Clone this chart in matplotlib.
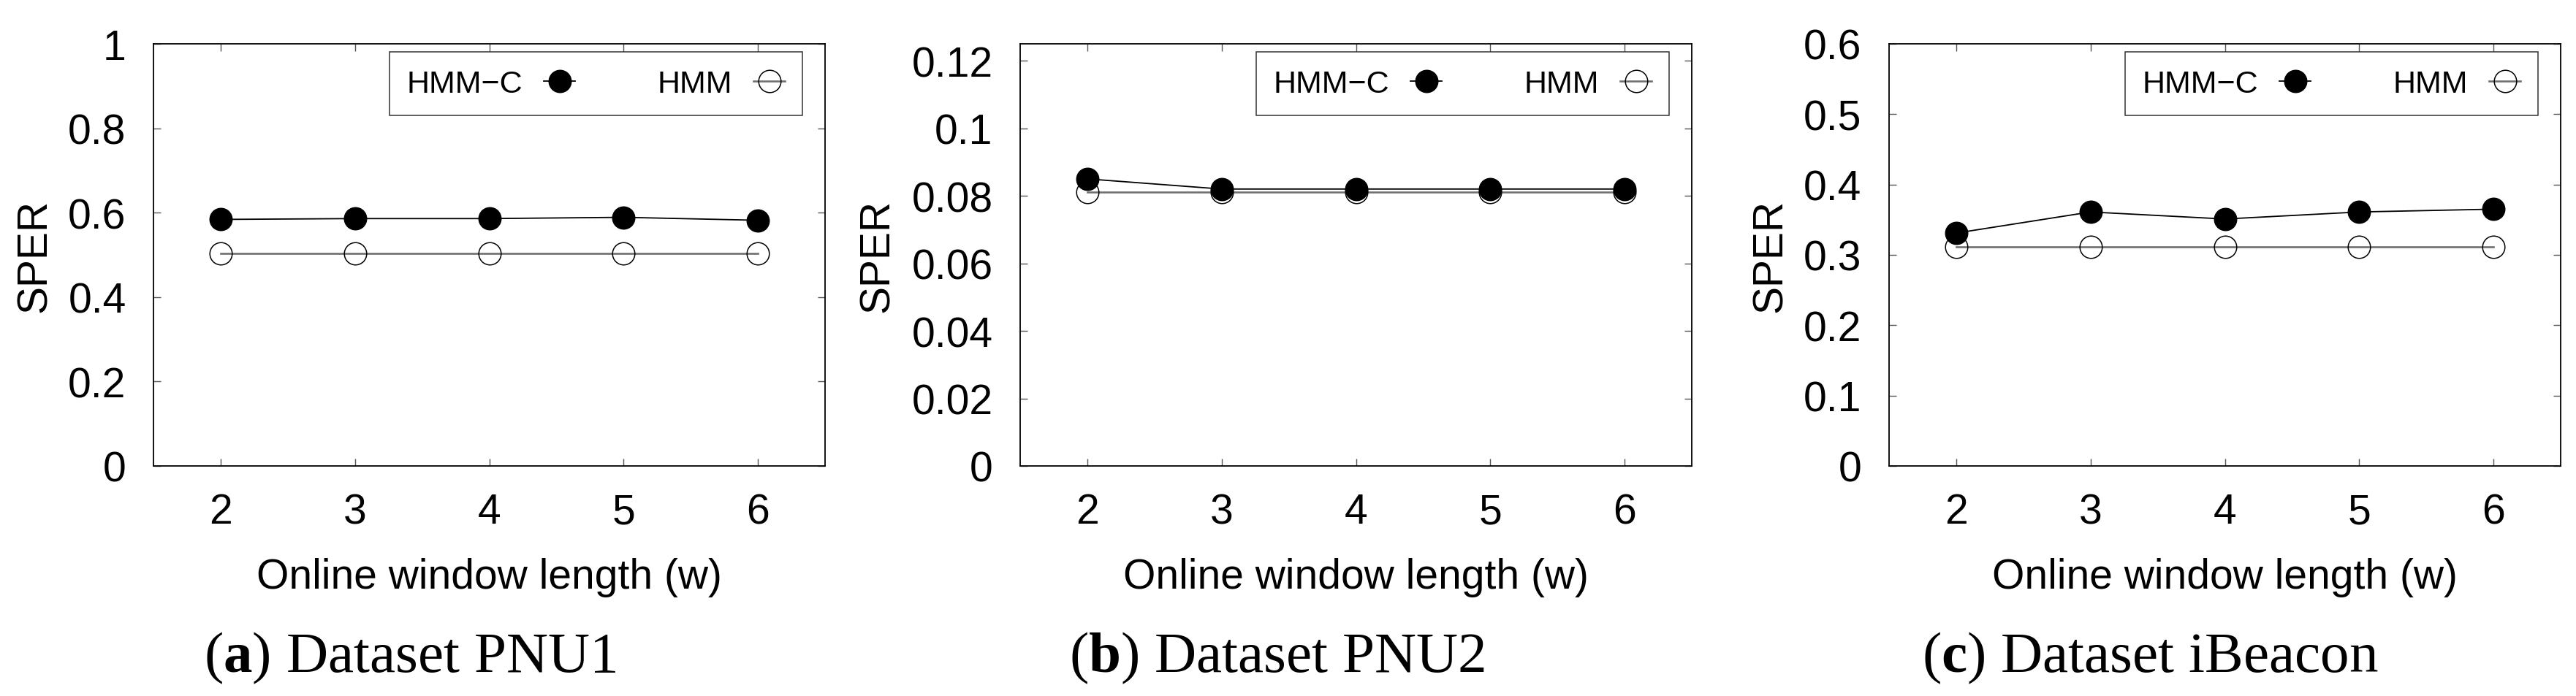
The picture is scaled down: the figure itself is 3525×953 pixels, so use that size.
import numpy as np
import matplotlib
matplotlib.use("Agg")
import matplotlib.pyplot as plt
from matplotlib.ticker import FuncFormatter

plt.rcParams['font.family'] = ['Liberation Sans', 'DejaVu Sans']
plt.rcParams['mathtext.fontset'] = 'custom'
plt.rcParams['mathtext.bf'] = 'Liberation Serif:bold'
plt.rcParams['mathtext.rm'] = 'Liberation Serif'

# window lengths on the x axis
window = [2, 3, 4, 5, 6]

# SPER values
pnu1_hmmc = [0.584, 0.586, 0.586, 0.589, 0.582]
pnu1_hmm = [0.503, 0.503, 0.503, 0.503, 0.503]
pnu2_hmmc = [0.085, 0.082, 0.082, 0.082, 0.082]
pnu2_hmm = [0.081, 0.081, 0.081, 0.081, 0.081]
ibeacon_hmmc = [0.331, 0.361, 0.351, 0.361, 0.365]
ibeacon_hmm = [0.311, 0.311, 0.311, 0.311, 0.311]

panel_letters = ['a', 'b', 'c']
panel_names = ['Dataset PNU1', 'Dataset PNU2', 'Dataset iBeacon']
y_limits = [1.0, 0.125, 0.6]
y_steps = [0.2, 0.02, 0.1]

W, H = 3525, 954


def draw_panel(ax, hmmc, hmm, ymax, ystep, ylab_x):
    ax.plot(window, hmm, color='#707070', lw=1.9, marker='o', ms=22,
            mfc='none', mec='black', mew=1.1, label='HMM', zorder=2)
    ax.plot(window, hmmc, color='black', lw=1.3, marker='o', ms=22,
            mfc='black', mec='black', label='HMM\u2212C', zorder=3)

    ax.set_xlim(1.5, 6.5)
    ax.set_ylim(0, ymax)
    ax.set_xticks(window)
    ax.set_yticks(np.arange(0, ymax + 1e-9, ystep))
    ax.yaxis.set_major_formatter(FuncFormatter(lambda v, p: '%g' % round(v, 4)))
    ax.tick_params(direction='in', length=7.5, width=1.0, color='#555555',
                   top=True, right=True, labelsize=41, pad=26)
    ax.tick_params(axis='y', pad=27)
    for s in ax.spines.values():
        s.set_linewidth(1.3)
        s.set_color('black')

    ax.set_xlabel('Online window length (w)', fontsize=41)
    ax.xaxis.set_label_coords(0.5, -0.216)
    ax.set_ylabel('SPER', fontsize=41)
    ax.yaxis.set_label_coords(ylab_x, 0.5)

    # legend: handles first drawn HMM-C then HMM
    h, l = ax.get_legend_handles_labels()
    leg = ax.legend(h[::-1], l[::-1], loc='upper right', bbox_to_anchor=(0.966, 0.981),
                    borderaxespad=0, ncol=2, markerfirst=False, fontsize=31,
                    frameon=True, fancybox=False, edgecolor='black',
                    handlelength=1.0, handletextpad=0.68, columnspacing=2.6,
                    borderpad=0.55, markerscale=1.0)
    leg.get_frame().set_linewidth(1.1)


def main():
    fig = plt.figure(figsize=(W / 100, H / 100), dpi=100)

    lefts = [210, 1396, 2585]
    ax_w, ax_b, ax_h = 919, 954 - 639, 578
    data = [(pnu1_hmmc, pnu1_hmm), (pnu2_hmmc, pnu2_hmm), (ibeacon_hmmc, ibeacon_hmm)]
    ylab_xs = [-0.147, -0.183, -0.147]
    cap_x = [279, 1463, 2630]

    for i in range(3):
        ax = fig.add_axes([lefts[i] / W, ax_b / H, ax_w / W, ax_h / H])
        draw_panel(ax, data[i][0], data[i][1], y_limits[i], y_steps[i], ylab_xs[i])
        fig.text(cap_x[i] / W, 1 - 920 / H,
                 r'($\mathbf{%s}$) %s' % (panel_letters[i], panel_names[i]),
                 fontsize=57, family='Liberation Serif', ha='left', va='baseline')

    fig.savefig('out.png', dpi=100)


if __name__ == '__main__':
    main()
